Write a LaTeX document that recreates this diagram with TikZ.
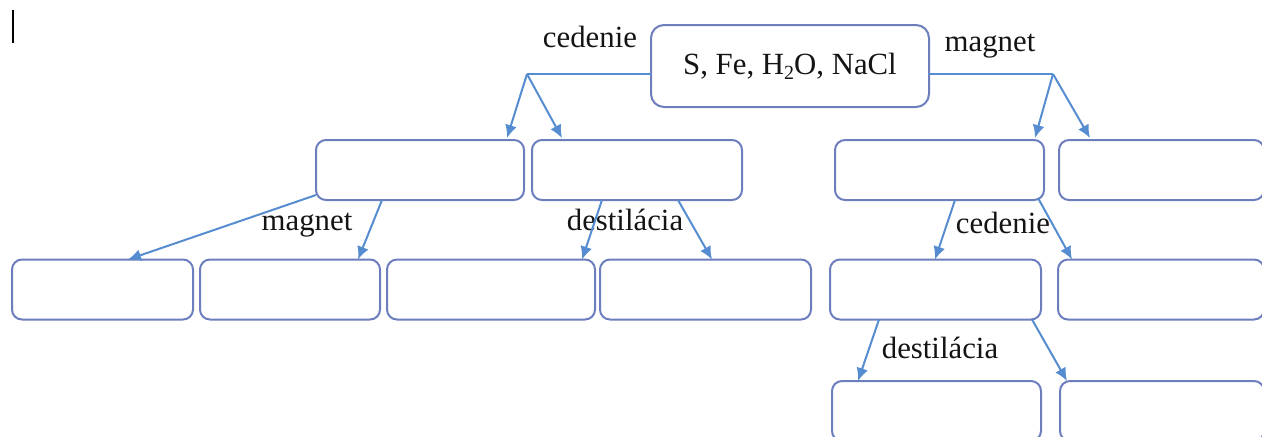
\documentclass[tikz,border=0pt]{standalone}
\usepackage{fontspec}
\setmainfont{Liberation Serif}
\usetikzlibrary{arrows.meta,calc}

\definecolor{sepboxdraw}{RGB}{108,126,190}
\definecolor{sepflow}{RGB}{86,140,208}
\definecolor{septext}{RGB}{20,20,20}

\begin{document}
\begin{tikzpicture}[
  x=0.5pt,
  y=-0.5pt,
  every node/.style={inner sep=0pt, outer sep=0pt},
  method/.style={font=\fontsize{15.4}{18}\selectfont, text=septext, anchor=base},
  mixbox/.style={draw=sepboxdraw, fill=white, rounded corners=6.5pt, line width=1pt,
    minimum width=139pt, minimum height=41pt, font=\fontsize{15.4}{18}\selectfont, text=septext},
  partbox/.style={draw=sepboxdraw, fill=white, rounded corners=5pt, line width=1pt, minimum height=30pt},
  flow/.style={draw=sepflow, line width=1pt, -{Latex[length=6.5pt,width=6pt]}},
  branch/.style={draw=sepflow, line width=1pt}
]

  \clip (0,0) rectangle (1262,436);

  % stray text cursor in the upper left corner
  \draw[line width=1pt, black] (13,10) -- (13,43);

  % The mixture to be separated.
  \node[mixbox] (mix) at (790,66) {S, Fe, H\raisebox{-0.35ex}{\fontsize{10}{10}\selectfont 2}O, NaCl};
  \coordinate (cedsplit) at (527,74);
  \coordinate (magsplit) at (1053,74);
  \node[method] (cedlab) at (590,47) {cedenie};
  \node[method] (maglab) at (990,51) {magnet};

  % Second row.
  \node[partbox, minimum width=104pt] (cedA) at (420,170) {};
  \node[partbox, minimum width=105pt] (cedB) at (637,170) {};
  \node[partbox, minimum width=104.5pt] (magA) at (939.5,170) {};
  \node[partbox, minimum width=102.5pt] (magB) at (1161.5,170) {};

  \draw[branch] ($(mix.west)+(0,8)$) -- (cedsplit);
  \draw[flow] (cedsplit) -- ($(cedA.north east)+(-17,-2)$);
  \draw[flow] (cedsplit) -- ($(cedB.north west)+(30,-2)$);
  \draw[branch] ($(mix.east)+(0,8)$) -- (magsplit);
  \draw[flow] (magsplit) -- ($(magA.north east)+(-9,-2)$);
  \draw[flow] (magsplit) -- ($(magB.north west)+(31,-2)$);

  % Third row.
  \node[partbox, minimum width=90.5pt] (cmA) at (102.5,289.5) {};
  \node[partbox, minimum width=90pt] (cmB) at (290,289.5) {};
  \node[partbox, minimum width=104pt] (cdA) at (491,289.5) {};
  \node[partbox, minimum width=105.5pt] (cdB) at (705.5,289.5) {};
  \node[partbox, minimum width=105.5pt] (mcA) at (935.5,289.5) {};
  \node[partbox, minimum width=103pt] (mcB) at (1161,289.5) {};

  \node[method] (maglab2) at (307,230) {magnet};
  \node[method] (destlab) at (625,230) {destilácia};
  \node[method] (cedlab2) at (1003,233) {cedenie};

  \draw[flow] ($(cedA.south west)+(0,-5)$) -- ($(cmA.north west)+(116,0)$);
  \draw[flow] ($(cedA.south west)+(66,0)$) -- ($(cmB.north east)+(-22,0)$);
  \draw[flow] ($(cedB.south west)+(70,0)$) -- ($(cdA.north east)+(-13,0)$);
  \draw[flow] ($(cedB.south west)+(146,0)$) -- ($(cdB.north west)+(112,0)$);
  \draw[flow] ($(magA.south west)+(120,0)$) -- ($(mcA.north west)+(105,0)$);
  \draw[flow] ($(magA.south east)+(-6,-2)$) -- ($(mcB.north west)+(14,0)$);

  % Fourth row.
  \node[partbox, minimum width=104.5pt] (mcdA) at (936.5,411) {};
  \node[partbox, minimum width=102pt] (mcdB) at (1162,411) {};
  \node[method] (destlab2) at (940,358) {destilácia};

  \draw[flow] ($(mcA.south west)+(49,0)$) -- ($(mcdA.north west)+(26,0)$);
  \draw[flow] ($(mcA.south east)+(-9,0)$) -- ($(mcdB.north west)+(7,0)$);

\end{tikzpicture}
\end{document}
